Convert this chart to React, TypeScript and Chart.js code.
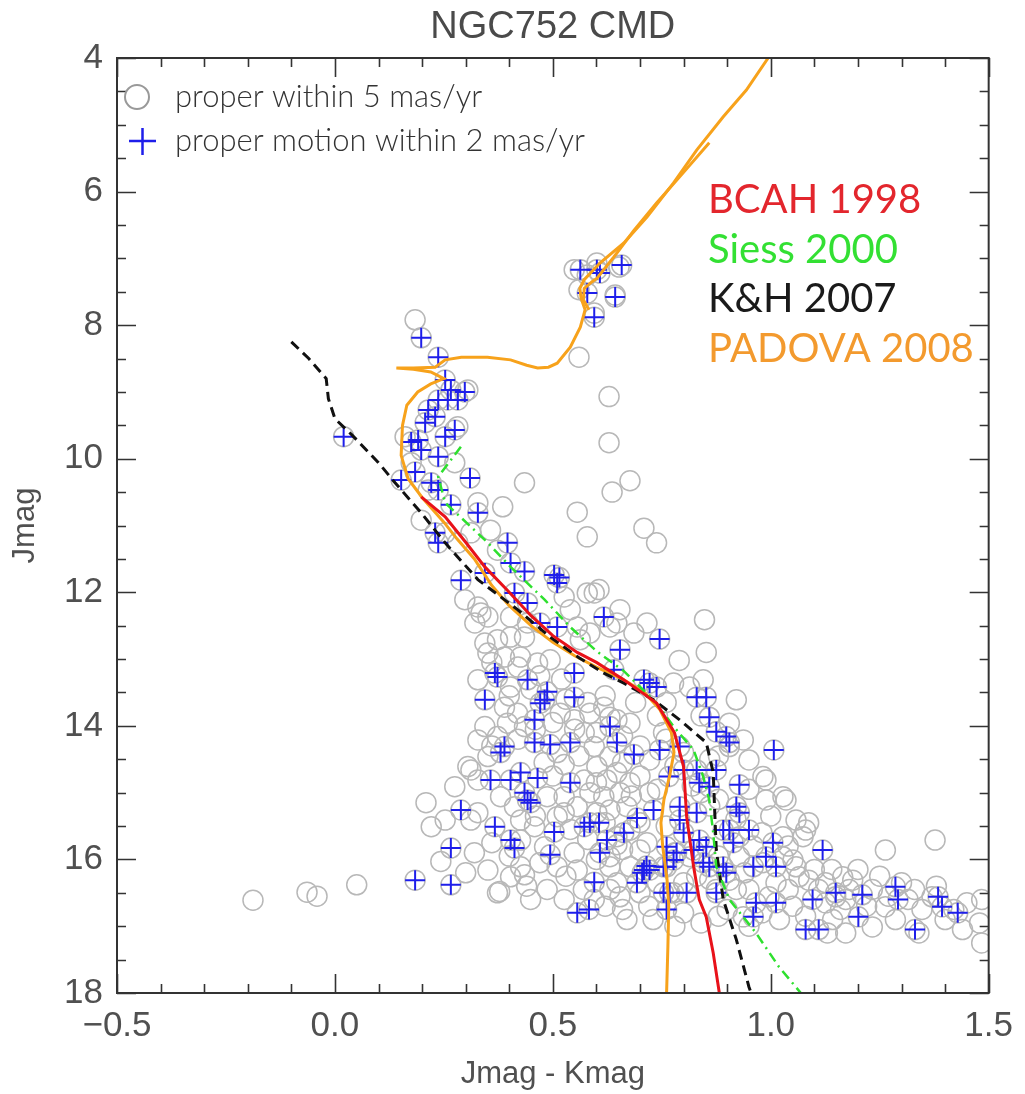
import React, { useEffect, useRef } from 'react';
import { Chart, registerables } from 'chart.js';

Chart.register(...registerables);

// ---------- axes ----------
const xMajorTicks = [-0.5, 0, 0.5, 1.0, 1.5];
const xMinorTicks = [-0.4, -0.3, -0.2, -0.1, 0.1, 0.2, 0.3, 0.4, 0.6, 0.7, 0.8, 0.9, 1.1, 1.2, 1.3, 1.4];
const yMajorTicks = [4, 6, 8, 10, 12, 14, 16, 18];
const yMinorTicks = [4.5, 5, 5.5, 6.5, 7, 7.5, 8.5, 9, 9.5, 10.5, 11, 11.5, 12.5, 13, 13.5, 14.5, 15, 15.5, 16.5, 17, 17.5];

const chartTitle = 'NGC752 CMD';
const xTitle = 'Jmag - Kmag';
const yTitle = 'Jmag';
const legendCircleText = 'proper within 5 mas/yr';
const legendPlusText = 'proper motion within 2 mas/yr';
const modelNames = ['BCAH 1998', 'Siess 2000', 'K&H 2007', 'PADOVA 2008'];
const modelColors = ['#e3262d', '#33e033', '#1a1a1a', '#f39a2e'];

// ---------- isochrones [J-K, J] ----------
const bcah1998: [number, number][] = [
  [0.198, 10.57], [0.253, 10.87], [0.30, 11.25], [0.344, 11.62], [0.40, 12.0], [0.45, 12.35],
  [0.50, 12.65], [0.556, 12.90], [0.60, 13.05], [0.66, 13.30], [0.70, 13.48], [0.738, 13.66],
  [0.779, 14.10], [0.800, 14.61], [0.807, 15.36], [0.823, 16.11], [0.836, 16.60], [0.852, 16.86],
  [0.868, 17.40], [0.882, 18.0],
];
const siess2000: [number, number][] = [
  [0.289, 9.82], [0.237, 10.27], [0.253, 10.66], [0.312, 11.02], [0.351, 11.26], [0.403, 11.62],
  [0.481, 12.11], [0.540, 12.52], [0.60, 12.88], [0.663, 13.18], [0.738, 13.66], [0.777, 14.01],
  [0.823, 14.36], [0.845, 14.76], [0.859, 15.11], [0.868, 15.60], [0.875, 16.11], [0.905, 16.60],
  [0.966, 17.10], [1.019, 17.61], [1.069, 18.0],
];
const kh2007: [number, number][] = [
  [-0.10, 8.25], [-0.06, 8.50], [-0.02, 8.80], [-0.015, 9.10], [0.0, 9.40], [0.04, 9.65],
  [0.10, 10.06], [0.138, 10.36], [0.198, 10.81], [0.253, 11.26], [0.328, 11.81], [0.419, 12.26],
  [0.494, 12.67], [0.56, 12.98], [0.617, 13.21], [0.663, 13.36], [0.731, 13.61], [0.791, 13.91],
  [0.852, 14.25], [0.868, 14.70], [0.871, 15.21], [0.875, 15.86], [0.891, 16.60], [0.921, 17.20],
  [0.950, 17.91], [0.955, 18.0],
];
const padova2008: [number, number][] = [
  [0.761, 18.0], [0.764, 17.3], [0.766, 16.7], [0.762, 16.3], [0.752, 15.8], [0.748, 15.45],
  [0.755, 15.1], [0.768, 14.75], [0.778, 14.4], [0.772, 14.1], [0.745, 13.75], [0.71, 13.5],
  [0.66, 13.3], [0.60, 13.12], [0.55, 12.95], [0.50, 12.75], [0.45, 12.5], [0.40, 12.2],
  [0.36, 11.9], [0.32, 11.5], [0.28, 11.2], [0.25, 10.95], [0.20, 10.58], [0.168, 10.3],
  [0.152, 9.95], [0.155, 9.5], [0.165, 9.2], [0.19, 9.0], [0.22, 8.88], [0.25, 8.80],
  [0.22, 8.70], [0.18, 8.66], [0.141, 8.64], [0.18, 8.64], [0.23, 8.63], [0.253, 8.52],
  [0.29, 8.48], [0.35, 8.48], [0.403, 8.52], [0.44, 8.60], [0.465, 8.64], [0.49, 8.63],
  [0.51, 8.57], [0.54, 8.33], [0.563, 8.03], [0.574, 7.77], [0.565, 7.6], [0.562, 7.45],
  [0.572, 7.32], [0.608, 7.07], [0.663, 6.77], [0.716, 6.38], [0.777, 5.87], [0.830, 5.38],
  [0.891, 4.88], [0.944, 4.48], [0.994, 4.0],
];
const padova2008Agb: [number, number][] = [
  [0.583, 7.77], [0.570, 7.62], [0.572, 7.45], [0.590, 7.35], [0.601, 7.30], [0.640, 6.98],
  [0.686, 6.58], [0.738, 6.17], [0.791, 5.78], [0.859, 5.27],
];

// ---------- stars [J-K, J] ----------
const properMotion2: [number, number][] = [
  [0.020, 9.67], [0.198, 8.19], [0.237, 8.48],
  [0.563, 7.17], [0.601, 7.17], [0.608, 7.22], [0.658, 7.10], [0.579, 7.52], [0.643, 7.58], [0.595, 7.88],
  [0.253, 8.82], [0.266, 8.97], [0.298, 9.00], [0.237, 9.12], [0.259, 9.12], [0.282, 9.12], [0.214, 9.27],
  [0.230, 9.37], [0.207, 9.46], [0.275, 9.57], [0.191, 9.72], [0.175, 9.75], [0.198, 9.87], [0.237, 9.97],
  [0.253, 9.67], [0.152, 10.32], [0.184, 10.20], [0.221, 10.36], [0.237, 10.47], [0.310, 10.29],
  [0.266, 10.69], [0.328, 10.81], [0.230, 11.11], [0.237, 11.26], [0.289, 11.82], [0.344, 11.71],
  [0.396, 11.26], [0.403, 11.56], [0.435, 11.69], [0.503, 11.74], [0.515, 11.78], [0.412, 12.01],
  [0.442, 12.16], [0.510, 12.52], [0.617, 12.37], [0.745, 12.70],
  [0.510, 11.86], [0.471, 12.46], [0.654, 12.86], [0.640, 13.16], [0.367, 13.21], [0.373, 13.27],
  [0.442, 13.31], [0.549, 13.21], [0.487, 13.49], [0.481, 13.61], [0.471, 13.66], [0.549, 13.57],
  [0.344, 13.61], [0.458, 13.91], [0.389, 14.31], [0.380, 14.40], [0.458, 14.25], [0.494, 14.28],
  [0.540, 14.25], [0.631, 14.01], [0.647, 14.25], [0.357, 14.81], [0.403, 14.81], [0.426, 14.70],
  [0.465, 14.78], [0.435, 15.00], [0.449, 15.15], [0.540, 14.85], [0.289, 15.26], [0.367, 15.51],
  [0.585, 15.45], [0.709, 13.31], [0.686, 14.43], [0.745, 14.36], [0.442, 15.11], [0.403, 15.71],
  [0.412, 15.83], [0.503, 15.59], [0.572, 15.51], [0.494, 15.93], [0.624, 15.71], [0.608, 15.90],
  [0.663, 15.60], [0.693, 15.38], [0.731, 15.26], [0.791, 15.21], [0.800, 15.60], [0.266, 15.83],
  [0.184, 16.31], [0.266, 16.38], [0.709, 16.16], [0.722, 16.16], [0.693, 16.35], [0.761, 16.11],
  [0.768, 16.50], [0.807, 16.50], [0.595, 16.34], [0.556, 16.80], [0.583, 16.75], [0.761, 16.75],
  [0.761, 15.81], [0.784, 15.90], [0.715, 16.10], [0.705, 16.20], [0.606, 15.45], [0.777, 16.01],
  [0.722, 13.36], [0.738, 13.42], [0.830, 13.57], [0.852, 13.57], [0.859, 13.87], [0.875, 14.09],
  [0.898, 14.16], [0.905, 14.25], [1.007, 14.36], [0.791, 14.31], [0.800, 14.66], [0.830, 14.66],
  [0.836, 14.85], [0.766, 14.76], [0.875, 14.66], [0.859, 14.91], [0.928, 14.88], [0.921, 15.21],
  [0.928, 15.30], [0.791, 15.41], [0.830, 15.30], [0.891, 15.56], [0.905, 15.56], [0.950, 15.56],
  [0.914, 15.75], [0.836, 15.71], [0.823, 15.86], [0.852, 15.81], [0.845, 16.05], [0.754, 16.11],
  [0.859, 16.11], [0.891, 16.11], [0.898, 16.20], [0.960, 16.11], [0.989, 15.96], [1.005, 15.75],
  [1.012, 16.11], [1.119, 15.86], [0.875, 16.50], [0.754, 16.50], [0.966, 16.65], [1.012, 16.65],
  [0.960, 16.86], [1.096, 16.60], [1.149, 16.50], [1.210, 16.53], [1.286, 16.41], [1.292, 16.60],
  [1.201, 16.86], [1.080, 17.05], [1.110, 17.05], [1.331, 17.05], [1.384, 16.56], [1.393, 16.71],
  [1.429, 16.80],
];

const properMotion5: [number, number][] = [
  [0.184, 7.92], [0.560, 8.48], [0.629, 9.07], [0.629, 9.76], [0.636, 10.50], [0.677, 10.33],
  [0.556, 10.80], [0.579, 11.17], [0.709, 11.04], [0.738, 11.26], [0.606, 11.96], [0.579, 12.01],
  [0.435, 10.36], [0.385, 10.72],
  [0.549, 7.17], [0.601, 7.07], [0.652, 7.13], [0.560, 7.47], [0.643, 7.55], [0.595, 7.82], [0.579, 7.25],
  [0.305, 8.97], [0.282, 9.52], [0.161, 9.67], [0.175, 10.06], [0.275, 10.06], [0.214, 10.47],
  [0.328, 10.66], [0.198, 10.92], [0.253, 11.11], [0.282, 11.26], [0.312, 11.11], [0.357, 11.07],
  [0.373, 11.37], [0.298, 12.11], [0.328, 12.22], [0.351, 12.37], [0.403, 12.37], [0.442, 12.46],
  [0.526, 12.07], [0.540, 12.26], [0.595, 12.01], [0.647, 12.46], [0.686, 12.61], [0.716, 12.46],
  [0.563, 12.71], [0.435, 12.67],
  [0.848, 12.41], [0.852, 12.90], [0.790, 13.02], [0.814, 13.42], [0.777, 13.36], [0.845, 13.31], [0.921, 13.61],
  [0.335, 12.31], [0.321, 12.46], [0.344, 12.76], [0.373, 12.71], [0.403, 12.67], [0.351, 12.91],
  [0.389, 12.97], [0.426, 12.97], [0.465, 13.06], [0.494, 13.01], [0.328, 13.31], [0.403, 13.42],
  [0.389, 13.72], [0.419, 13.81], [0.396, 13.96], [0.435, 14.01], [0.517, 13.81], [0.549, 13.91],
  [0.585, 13.81], [0.572, 14.10], [0.595, 14.31], [0.617, 13.72], [0.647, 13.91], [0.631, 14.46],
  [0.601, 14.61], [0.572, 14.81], [0.585, 15.00], [0.624, 14.81], [0.647, 14.70], [0.654, 15.00],
  [0.631, 15.26], [0.601, 15.30], [0.556, 15.21], [0.526, 15.06], [0.510, 15.36], [0.487, 15.06],
  [0.412, 15.21], [0.380, 15.06], [0.328, 14.81], [0.305, 14.61], [0.275, 14.91], [0.351, 14.46],
  [0.373, 14.16], [0.344, 14.01], [0.328, 14.21], [0.209, 15.15], [0.253, 15.41], [0.328, 15.30],
  [0.426, 15.41], [0.526, 14.58], [0.510, 14.40], [0.556, 12.52], [0.585, 12.61], [0.631, 12.52],
  [0.654, 12.26], [0.312, 14.66],
  [0.677, 13.96], [0.631, 13.87], [0.754, 14.10], [0.905, 13.96], [0.950, 14.51], [0.982, 14.76],
  [1.028, 15.06], [0.989, 15.11], [1.058, 15.41], [1.087, 15.45], [1.028, 15.66], [1.074, 15.66],
  [0.905, 14.31], [0.937, 14.21], [0.722, 14.51], [0.677, 14.85], [0.722, 15.00], [0.617, 15.06],
  [0.670, 15.21], [0.700, 15.45], [0.647, 15.66], [0.700, 15.86], [0.631, 15.96], [0.677, 16.11],
  [0.647, 16.35], [0.777, 16.50], [0.814, 15.96], [0.928, 15.66], [0.928, 15.96], [0.982, 16.05],
  [1.028, 15.96], [1.058, 16.11], [1.087, 16.31], [1.126, 16.35], [1.149, 16.56], [1.012, 16.35],
  [0.950, 16.45], [0.905, 16.31], [0.875, 16.45], [0.996, 16.56],
  [0.989, 14.81], [1.035, 15.11], [1.080, 15.56], [1.263, 15.86], [1.377, 15.71], [1.165, 16.26],
  [1.051, 16.01], [1.065, 16.26], [1.110, 16.45], [1.172, 16.60], [1.233, 16.45], [1.263, 16.71],
  [1.315, 16.60], [1.347, 16.75], [1.370, 16.56], [1.142, 16.90], [1.172, 17.10], [1.233, 17.01],
  [1.286, 16.90], [1.484, 16.60], [1.479, 16.95], [1.484, 17.25], [1.126, 16.65], [1.188, 16.31],
  [0.937, 16.86], [0.921, 16.45],
  [0.221, 15.51], [0.243, 16.03], [0.351, 16.16], [0.378, 16.48], [0.426, 16.11], [0.435, 16.23],
  [0.449, 16.60], [0.487, 16.45], [0.526, 16.60], [0.510, 16.11], [0.549, 15.90], [0.556, 16.16],
  [0.631, 16.11], [0.631, 16.45], [0.654, 16.56], [0.670, 16.90], [0.526, 15.30], [0.647, 15.78],
  [0.677, 15.56], [0.716, 15.75], [0.481, 15.81], [0.458, 15.51], [0.426, 15.71], [0.312, 15.41],
  [0.595, 16.60], [0.403, 16.26], [0.373, 16.50],
  [-0.188, 16.61], [-0.064, 16.49], [-0.041, 16.55], [0.050, 16.38],
  [0.76, 14.20], [0.80, 14.40], [0.86, 14.50], [0.84, 15.00], [0.88, 15.10], [0.76, 15.50],
  [0.78, 15.90], [0.86, 16.30], [0.74, 16.35], [0.80, 16.80], [0.72, 16.70], [0.90, 16.75],
  [1.05, 16.70], [1.10, 16.15], [1.20, 16.15], [1.25, 16.25], [1.30, 16.35], [1.40, 16.90],
  [1.45, 16.65], [1.34, 17.10], [1.16, 16.75], [1.02, 16.90],
  [0.36, 13.05], [0.42, 13.12], [0.47, 13.25], [0.52, 13.30], [0.40, 13.55], [0.45, 13.45],
  [0.53, 13.60], [0.58, 13.65], [0.62, 13.55], [0.50, 13.95], [0.55, 14.05], [0.60, 14.10],
  [0.66, 14.15], [0.70, 14.30], [0.46, 14.05], [0.42, 14.20], [0.36, 14.30], [0.48, 14.55],
  [0.56, 14.45], [0.60, 14.85], [0.66, 14.55], [0.70, 14.75], [0.74, 14.95], [0.68, 15.05],
  [0.50, 14.75], [0.46, 15.35], [0.54, 15.55], [0.62, 15.45], [0.58, 15.70], [0.66, 15.85],
  [0.60, 16.00], [0.53, 16.25], [0.57, 16.45], [0.62, 16.70], [0.47, 16.05], [0.40, 15.95],
  [0.36, 15.75], [0.32, 15.90], [0.30, 16.20], [0.44, 16.40], [0.70, 16.50], [0.73, 16.90],
  [0.66, 16.75], [0.78, 17.00], [0.84, 16.95], [0.88, 16.85], [0.95, 17.00], [0.98, 16.80],
  [1.08, 16.85], [1.13, 17.10], [1.22, 16.70], [1.27, 16.55], [1.33, 16.45], [1.38, 16.40],
  [1.42, 16.75], [1.44, 17.05], [1.18, 16.45], [1.14, 16.15], [1.04, 16.45], [0.96, 15.80],
  [0.92, 15.40], [0.86, 15.20], [0.82, 14.90], [0.95, 14.95], [1.00, 15.35], [0.98, 15.60],
  [1.04, 15.80], [0.78, 14.60], [0.74, 13.85], [0.69, 13.65], [0.76, 13.65], [0.84, 13.85],
  [0.88, 14.45], [0.83, 16.25], [0.80, 16.35], [0.94, 16.20], [0.88, 15.95],
];

const AX_FONT = '"Liberation Sans Narrow", "Liberation Sans", sans-serif';
const TXT_FONT = 'Lato, "Open Sans", sans-serif';
const AX_COLOR = '#505050';

export default function App() {
  const ref = useRef<HTMLCanvasElement>(null);

  useEffect(() => {
    const canvas = ref.current;
    if (!canvas) return;
    const toXY = (arr: [number, number][]) => arr.map(([x, y]) => ({ x, y }));

    const decor = {
      id: 'decor',
      afterDatasetsDraw(chart: any) {
        const { ctx, chartArea: a, scales } = chart;
        const xs = scales.x;
        const ys = scales.y;
        ctx.save();
        ctx.strokeStyle = '#333';
        ctx.lineWidth = 2;
        ctx.strokeRect(a.left, a.top, a.right - a.left, a.bottom - a.top);
        ctx.lineWidth = 1.6;
        const drawX = (vals: number[], len: number) => {
          vals.forEach((v) => {
            const px = Math.round(xs.getPixelForValue(v)) + 0.5;
            ctx.beginPath();
            ctx.moveTo(px, a.bottom);
            ctx.lineTo(px, a.bottom - len);
            ctx.moveTo(px, a.top);
            ctx.lineTo(px, a.top + len);
            ctx.stroke();
          });
        };
        const drawY = (vals: number[], len: number) => {
          vals.forEach((v) => {
            const py = Math.round(ys.getPixelForValue(v)) + 0.5;
            ctx.beginPath();
            ctx.moveTo(a.left, py);
            ctx.lineTo(a.left + len, py);
            ctx.moveTo(a.right, py);
            ctx.lineTo(a.right - len, py);
            ctx.stroke();
          });
        };
        drawX(xMajorTicks, 19);
        drawX(xMinorTicks, 9);
        drawY(yMajorTicks, 19);
        drawY(yMinorTicks, 9);

        // title
        ctx.fillStyle = '#4a4a4a';
        ctx.font = `38px ${AX_FONT}`;
        ctx.textAlign = 'center';
        ctx.textBaseline = 'middle';
        ctx.fillText(chartTitle, (a.left + a.right) / 2, 28);

        // legend
        ctx.textAlign = 'left';
        ctx.strokeStyle = '#999';
        ctx.lineWidth = 2;
        ctx.beginPath();
        ctx.arc(137, 97, 12, 0, Math.PI * 2);
        ctx.stroke();
        ctx.strokeStyle = '#1e1eea';
        ctx.lineWidth = 2.5;
        ctx.beginPath();
        ctx.moveTo(129, 141);
        ctx.lineTo(156, 141);
        ctx.moveTo(142.5, 128);
        ctx.lineTo(142.5, 155);
        ctx.stroke();
        ctx.fillStyle = '#333';
        ctx.font = `300 31px ${TXT_FONT}`;
        ctx.fillText(legendCircleText, 175, 97);
        ctx.fillText(legendPlusText, 175, 141);

        // model labels
        ctx.font = `400 40px ${TXT_FONT}`;
        const ys0 = [200, 250, 299, 349];
        modelNames.forEach((n, i) => {
          ctx.fillStyle = modelColors[i];
          ctx.fillText(n, 708, ys0[i]);
        });
        ctx.restore();
      },
    };

    const lineDs = (label: string, data: [number, number][], color: string, width: number, dash: number[]) => ({
      label,
      data: toXY(data),
      showLine: true,
      borderColor: color,
      backgroundColor: color,
      borderWidth: width,
      borderDash: dash,
      pointRadius: 0,
      fill: false,
      tension: 0,
      order: 0,
    });

    const chart = new Chart(canvas, {
      type: 'scatter',
      data: {
        datasets: [
          lineDs('BCAH 1998', bcah1998, '#e8121a', 3, []),
          lineDs('Siess 2000', siess2000, '#2ee02e', 2.5, [10, 5, 2, 5]),
          lineDs('K&H 2007', kh2007, '#111111', 3, [10, 6]),
          lineDs('PADOVA 2008', padova2008, '#f7a21b', 3, []),
          lineDs('PADOVA 2008 AGB', padova2008Agb, '#f7a21b', 3, []),
          {
            label: legendPlusText,
            data: toXY(properMotion2),
            pointStyle: 'cross',
            pointRadius: 10,
            borderColor: '#1e1eea',
            borderWidth: 2,
            backgroundColor: 'transparent',
            showLine: false,
            clip: 0,
            order: 1,
          },
          {
            label: legendCircleText,
            data: toXY(properMotion2),
            pointStyle: 'circle',
            pointRadius: 10,
            borderColor: '#b8b8b8',
            borderWidth: 1.5,
            backgroundColor: 'transparent',
            showLine: false,
            clip: 0,
            order: 2,
          },
          {
            label: legendCircleText,
            data: toXY(properMotion5),
            pointStyle: 'circle',
            pointRadius: 10,
            borderColor: '#b8b8b8',
            borderWidth: 1.5,
            backgroundColor: 'transparent',
            showLine: false,
            clip: 0,
            order: 2,
          },
        ] as any,
      },
      options: {
        animation: false,
        responsive: false,
        devicePixelRatio: 1,
        events: [],
        layout: { padding: { top: 58, right: 31, left: 0, bottom: 0 } },
        plugins: {
          legend: { display: false },
          title: { display: false },
          tooltip: { enabled: false },
        },
        scales: {
          x: {
            type: 'linear',
            position: 'bottom',
            min: -0.5,
            max: 1.5,
            grid: { display: false, drawTicks: false },
            border: { display: false },
            ticks: {
              stepSize: 0.5,
              autoSkip: false,
              maxRotation: 0,
              padding: 12,
              color: AX_COLOR,
              font: { family: AX_FONT, size: 35 },
              callback: (v: any) => Number(v).toFixed(1).replace('-', '\u2212'),
            },
            title: {
              display: true,
              text: xTitle,
              color: AX_COLOR,
              font: { family: AX_FONT, size: 31 },
              padding: { top: 0, bottom: 1 },
            },
            afterFit: (s: any) => {
              s.height = 101;
            },
          },
          y: {
            type: 'linear',
            position: 'left',
            min: 4,
            max: 18,
            reverse: true,
            grid: { display: false, drawTicks: false },
            border: { display: false },
            ticks: {
              stepSize: 2,
              autoSkip: false,
              padding: 14,
              color: AX_COLOR,
              font: { family: AX_FONT, size: 35 },
              callback: (v: any) => String(v),
            },
            title: {
              display: true,
              text: yTitle,
              color: AX_COLOR,
              font: { family: AX_FONT, size: 31 },
              padding: { top: 7, bottom: 0 },
            },
            afterFit: (s: any) => {
              s.width = 117;
            },
          },
        },
      } as any,
      plugins: [decor],
    });
    return () => chart.destroy();
  }, []);

  return (
    <div style={{ position: 'absolute', left: 0, top: 0, width: 1025, height: 1094, background: '#fff' }}>
      <canvas ref={ref} width={1025} height={1094} style={{ display: 'block', width: 1025, height: 1094 }} />
    </div>
  );
}
